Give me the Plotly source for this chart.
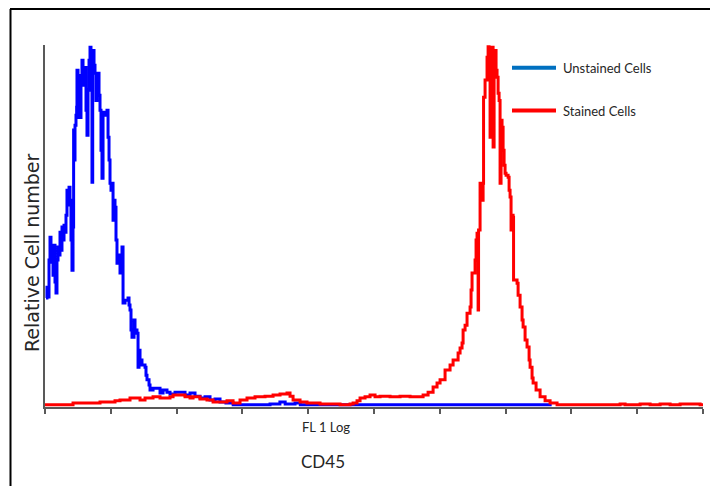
import plotly.graph_objects as go

# Flow cytometry histogram (CD45), channel 0-1000 on a log-FL1 scale, relative counts 0-100
unstained_x = [1.5, 3, 4.6, 6.1, 7.6, 9.1, 10.6, 12.2, 13.7, 15.2, 16.7, 18.2, 19.8, 21.3, 22.8, 24.3,
               25.8, 27.4, 28.9, 30.4, 31.9, 33.4, 35, 36.5, 38, 39.5, 41, 42.6, 43.5, 44.1, 45.6, 47.1,
               48.1, 48.6, 50.2, 51.7, 53.2, 54.7, 56.2, 57.8, 59.3, 60.8, 62.3, 63.8, 65.4, 66.9, 68.4,
               69.9, 71.4, 72.5, 74.5, 76, 77.5, 79, 80.6, 82.1, 83.6, 85.1, 86.6, 88.2, 91.2, 94.2, 95.8,
               97.3, 98.8, 100.3, 101.8, 103.4, 104.9, 106.4, 107.9, 109.4, 111, 114, 115.5, 117, 118.6,
               121.6, 126.2, 127.7, 129.2, 130.7, 132.2, 135.3, 136.8, 139.8, 141.4, 142.9, 144.4, 147.4,
               152, 153.5, 155, 158.1, 159.6, 164.2, 170.2, 174.8, 179.4, 185.4, 190, 197.6, 205.2, 212.8,
               220.4, 228, 235.6, 243.2, 250.8, 258.4, 266, 275, 286, 296, 327, 342, 357, 365, 380, 388, 770]
unstained_y = [30.1, 33.1, 30.4, 40.6, 46.9, 40.0, 43.3, 36.4, 44.7, 34.5, 31.5, 40.6, 44.2, 42.0, 48.3, 43.3,
               49.7, 46.1, 50.2, 48.3, 53.0, 59.9, 55.8, 60.7, 57.1, 46.1, 37.8, 49.7, 76.5, 68.2, 77.8, 80.6,
               82.8, 93.0, 80.0, 86.1, 80.0, 91.6, 95.8, 88.9, 91.6, 93.8, 82.0, 75.1, 87.5, 95.8, 99.4,
               87.5, 62.1, 98.5, 94.4, 92.2, 84.7, 90.3, 92.2, 86.1, 82.0, 70.9, 63.2, 81.4, 80.6, 82.0, 74.5,
               68.2, 61.8, 59.9, 61.8, 51.6, 57.1, 55.2, 46.1, 39.7, 42.0, 37.0, 42.0, 44.2, 28.7,
               29.5, 30.1, 28.2, 26.8, 21.3, 19.3, 24.0, 21.3, 20.4, 11.0, 15.7, 13.0, 11.6,
               11.0, 8.8, 7.5, 6.1, 4.7, 5.2, 5.2, 3.9, 4.7, 4.1, 3.6, 4.1, 4.1, 3.3,
               3.9, 3.0, 2.5, 2.8, 1.9, 2.2, 1.4, 1.1, 0.6, 0.6, 0.6, 0.8, 1.4, 0.8, 1.1, 0.6, 0.6]

stained_x = [0, 22.8, 42.6, 53.2, 68.4, 83.6, 94.2, 106.4, 114, 129.2, 144.4, 152, 164.2, 174.8, 190, 194.6,
             205.2, 212.8, 220.4, 225, 235.6, 246.2, 255.4, 266, 276.6, 285.8, 296.4, 307, 319.2, 334.4,
             346.6, 357.2, 367.8, 372.4, 377, 387.6, 398.2, 418, 448.4, 463.6, 468.2, 474.2, 478.8, 486.4,
             494, 501.6, 509.2, 524.4, 539.6, 554.8, 574.6, 582.2, 589.8, 595.8, 600.4, 608, 615.6, 620.2,
             627.8, 630.8, 633.8, 635.4, 638.4, 641.4, 646, 647.5, 649, 653.6, 655.1, 656.6, 658.2, 658.9,
             661.2, 662.7, 665.8, 666.5, 668.8, 671.8, 673.4, 674.9, 676.4, 677.9, 679.4, 681, 682.5, 684,
             685.5, 687, 688.6, 690.1, 691.6, 693.1, 694.6, 696.2, 697.7, 699.2, 700.7, 703.8, 705.3,
             706.8, 708.3, 709.8, 711.4, 712.1, 714.4, 717.4, 719, 722, 725, 726.6, 729.6, 732.6, 735.7,
             737.2, 740.2, 741.8, 746.3, 752.4, 760, 767.6, 778.2, 798, 843.6, 874, 881.6, 904.4, 919.6,
             934.8, 950, 965.2, 995.6, 1000]
stained_y = [0.6, 0.6, 1.1, 1.1, 1.1, 1.4, 1.4, 1.7, 1.9, 2.5, 1.9, 2.5, 2.8, 2.5, 2.8, 3.3,
             3.3, 2.8, 2.5, 2.8, 2.2, 1.9, 1.4, 1.4, 1.7, 1.1, 1.9, 2.5, 2.8, 3.0,
             3.3, 3.6, 3.9, 3.0, 1.9, 1.4, 1.1, 0.8, 0.6, 0.8, 1.1, 1.7, 2.5, 2.8,
             3.3, 2.8, 3.0, 2.8, 3.0, 2.8, 3.3, 4.1, 5.5, 6.6, 7.5, 10.2, 11.6, 13.0,
             14.9, 16.3, 17.7, 21.3, 22.6, 25.9, 27.6, 32.3, 37.0, 40.6, 46.1, 48.0, 26.8, 48.9,
             61.8, 57.1, 61.8, 85.6, 90.3, 96.6, 99.5, 90.3, 74.5, 95.8, 99.4, 71.8, 95.8, 98.5,
             93.0, 91.1, 86.7, 84.7, 61.8, 79.2, 77.3, 70.9, 66.8, 64.6, 64.0, 63.5, 59.9,
             58.0, 48.9, 53.0, 52.4, 35.1, 35.1, 34.2, 30.9, 27.6, 24.0, 22.1, 18.5, 16.6, 13.0,
             11.0, 8.0, 6.6, 4.7, 2.8, 1.7, 1.1, 0.6, 0.6, 0.6, 0.8, 0.6, 0.8, 0.6,
             0.8, 0.6, 0.8, 0.6, 0.6]

legend_names = ["Unstained Cells", "Stained Cells"]
x_title = "FL 1 Log"
marker_name = "CD45"
y_title = "Relative Cell number"

# The page body adds an 8px offset; the figure is sized so that the plot area
# lands at screen x 45..703, y 45..407.
OFF = 8
W, H = 710, 478
L, T = 45 - OFF, 45 - OFF
pw, ph = 658, 362
R, B = W - L - pw, H - T - ph


def px(xs):
    return (xs - 45) / pw


def py(ys):
    return (407 - ys) / ph


fig = go.Figure()
fig.add_trace(go.Scatter(x=unstained_x, y=unstained_y, mode="lines", line=dict(color="#0000FF", width=3, shape="hv"),
                         name=legend_names[0], showlegend=False, hoverinfo="skip"))
fig.add_trace(go.Scatter(x=stained_x, y=stained_y, mode="lines", line=dict(color="#FF0000", width=3, shape="hv"),
                         name=legend_names[1], showlegend=False, hoverinfo="skip"))

axis_col = "#595959"
fig.update_xaxes(range=[0, 1000], tick0=0, dtick=100, showticklabels=False, ticks="outside", ticklen=5,
                 tickwidth=1.5, tickcolor=axis_col, showline=True, linecolor=axis_col, linewidth=2,
                 showgrid=False, zeroline=False)
fig.update_yaxes(range=[0, 100], showticklabels=False, ticks="", showline=True, linecolor=axis_col,
                 linewidth=2, showgrid=False, zeroline=False)

shapes = [
    dict(type="line", xref="paper", yref="paper", x0=px(10), x1=px(740), y0=py(9), y1=py(9),
         line=dict(color="black", width=2)),
    dict(type="line", xref="paper", yref="paper", x0=px(10.5), x1=px(10.5), y0=py(9), y1=py(500),
         line=dict(color="black", width=2)),
    dict(type="line", xref="paper", yref="paper", x0=px(512), x1=px(556), y0=py(67.7), y1=py(67.7),
         line=dict(color="#0070C0", width=4)),
    dict(type="line", xref="paper", yref="paper", x0=px(512), x1=px(556), y0=py(110.5), y1=py(110.5),
         line=dict(color="#FF0000", width=4)),
]

cal = "Lato, Carlito, Calibri, sans-serif"
annotations = [
    dict(text=legend_names[0], xref="paper", yref="paper", x=px(561), y=py(68), xanchor="left", yanchor="middle",
         showarrow=False, font=dict(family=cal, size=13, color="#262626")),
    dict(text=legend_names[1], xref="paper", yref="paper", x=px(561), y=py(111), xanchor="left", yanchor="middle",
         showarrow=False, font=dict(family=cal, size=13, color="#262626")),
    dict(text=x_title, xref="paper", yref="paper", x=px(326), y=py(427), xanchor="center", yanchor="middle",
         showarrow=False, font=dict(family=cal, size=13, color="#262626")),
    dict(text=marker_name, xref="paper", yref="paper", x=px(323), y=py(462), xanchor="center", yanchor="middle",
         showarrow=False, font=dict(family=cal, size=17, color="#262626")),
    dict(text=y_title, xref="paper", yref="paper", x=px(32), y=py(253), xanchor="center", yanchor="middle",
         textangle=-90, showarrow=False, font=dict(family="DejaVu Sans", size=19, color="#262626")),
]

fig.update_layout(width=W, height=H, margin=dict(l=L, r=R, t=T, b=B, pad=0), plot_bgcolor="white",
                  paper_bgcolor="white", shapes=shapes, annotations=annotations, showlegend=False)

fig.write_html("out.html", config={"displayModeBar": False})
